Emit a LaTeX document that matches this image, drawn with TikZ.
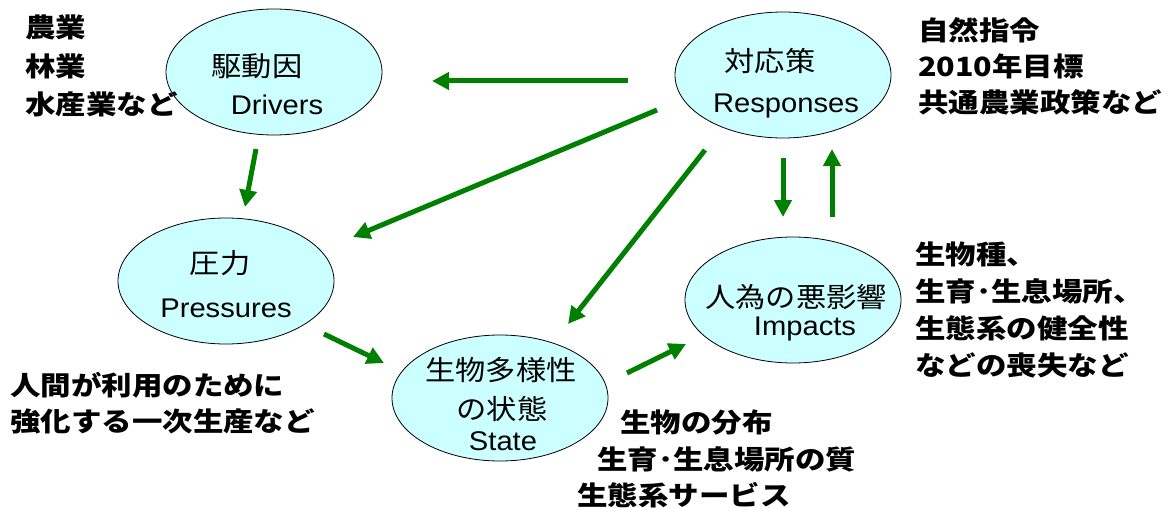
\documentclass[tikz,border=0pt]{standalone}
\usepackage{fontspec}
\setmainfont{Liberation Sans}
\newfontfamily\latf[FakeStretch=1.08]{Liberation Sans}
\newfontfamily\cjk[FakeStretch=1.15]{Noto Sans CJK JP}
\newfontfamily\cjkr[FakeStretch=1.10]{Noto Sans CJK JP}
\usetikzlibrary{shapes.geometric,arrows.meta}
\definecolor{arrgreen}{RGB}{0,128,0}
\definecolor{ellfill}{RGB}{204,255,255}
\tikzset{
  ell/.style={ellipse, draw=black, line width=0.8pt, fill=ellfill,
    minimum width=216pt, minimum height=126pt, inner sep=0pt},
  jt/.style={anchor=base, inner sep=0pt, font=\cjkr\fontsize{27.5}{30}\selectfont},
  lt/.style={anchor=base, inner sep=0pt, font=\latf\fontsize{27}{30}\selectfont},
  lab/.style={anchor=base west, inner sep=0pt, font=\cjk\bfseries\fontsize{26.5}{30}\selectfont},
  arr/.style={draw=arrgreen, line width=5pt, -{Triangle[length=17pt,width=17pt]}}
}
\begin{document}
\begin{tikzpicture}[x=1pt,y=-1pt]
\useasboundingbox[fill=white] (0,0) rectangle (1169,508);

% ellipses
\node[ell] (drv) at (274,72) {};
\node[ell] (resp) at (783,75) {};
\node[ell] (pres) at (226,281) {};
\node[ell] (state) at (500,398) {};
\node[ell] (imp) at (793,300) {};

% ellipse texts
\node[jt] (drvj) at (257,77) {駆動因};
\node[lt] (drvl) at (277,114) {Drivers};
\node[jt] (respj) at (770,72) {対応策};
\node[lt] (respl) at (786,113) {Responses};
\node[jt] (presj) at (220,273) {圧力};
\node[lt] (presl) at (226,317) {Pressures};
\node[jt] (statej1) at (501,380) {生物多様性};
\node[jt] (statej2) at (502,419) {の状態};
\node[lt] (statel) at (503,450) {State};
\node[jt] (impj) at (796,307) {人為の悪影響};
\node[lt] (impl) at (805,335) {Impacts};

% side labels
\node[lab] (tl1) at (25,38) {農業};
\node[lab] (tl2) at (25,77) {林業};
\node[lab] (tl3) at (25,115) {水産業など};

\node[lab] (tr1) at (918,41) {自然指令};
\node[lab] (tr2) at (918,77) {2010年目標};
\node[lab] (tr3) at (918,113) {共通農業政策など};

\node[lab] (ir1) at (915,264) {生物種、};
\node[lab] (ir2) at (915,301) {生育･生息場所、};
\node[lab] (ir3) at (915,338) {生態系の健全性};
\node[lab] (ir4) at (915,375) {などの喪失など};

\node[lab] (bl1) at (10,395) {人間が利用のために};
\node[lab] (bl2) at (10,431) {強化する一次生産など};

\node[lab] (bc1) at (620,432) {生物の分布};
\node[lab] (bc2) at (597,469) {生育･生息場所の質};
\node[lab] (bc3) at (577,505) {生態系サービス};

% connector end points
\coordinate (a1s) at (628,81);  \coordinate (a1e) at (432,81);
\coordinate (a2s) at (256,149); \coordinate (a2e) at (245,207);
\coordinate (a3s) at (657,110); \coordinate (a3e) at (353,237);
\coordinate (a4s) at (705,150); \coordinate (a4e) at (568,324);
\coordinate (a5s) at (783,158); \coordinate (a5e) at (783,217);
\coordinate (a6s) at (832,217); \coordinate (a6e) at (832,149);
\coordinate (a7s) at (324,334); \coordinate (a7e) at (384,363);
\coordinate (a8s) at (627,373); \coordinate (a8e) at (686,344);

\draw[arr] (a1s) -- (a1e);
\draw[arr] (a2s) -- (a2e);
\draw[arr] (a3s) -- (a3e);
\draw[arr] (a4s) -- (a4e);
\draw[arr] (a5s) -- (a5e);
\draw[arr] (a6s) -- (a6e);
\draw[arr] (a7s) -- (a7e);
\draw[arr] (a8s) -- (a8e);
\end{tikzpicture}
\end{document}
